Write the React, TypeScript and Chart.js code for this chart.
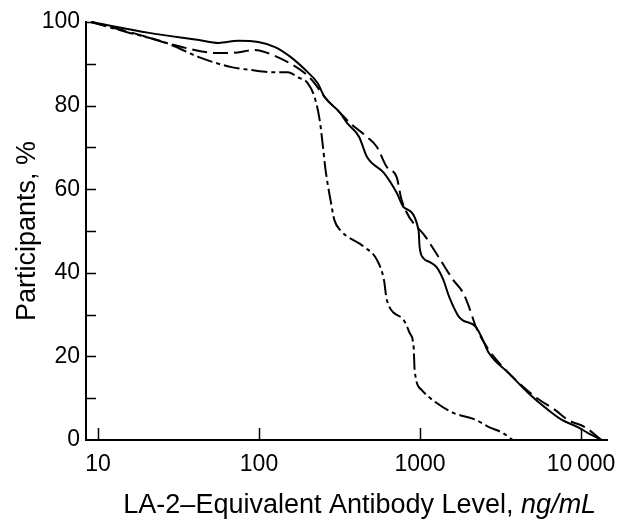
import React, { useEffect, useRef } from 'react';
import { Chart, registerables } from 'chart.js';

Chart.register(...registerables);

// ---- data ----
const solidX = [9.04, 20.8, 42.3, 56.1, 74.5, 98.9, 125.7, 157.6, 200.5, 231, 255, 320, 353, 418.6, 468.8, 596.6, 717.5, 792.5, 979.6, 994, 1051, 1145, 1264, 1396, 1520, 1751, 2228, 2460, 2679, 3555, 4719, 6245, 7616, 9550, 11000, 13400];
const solidY = [100, 97.4, 95.7, 95.0, 95.5, 95.2, 94.0, 91.6, 88.0, 85.4, 82.1, 78.2, 75.8, 72.5, 67.7, 63.9, 59.1, 55.7, 50.2, 46.2, 43.5, 42.6, 41.4, 38.3, 34.2, 29.4, 27.0, 23.9, 20.8, 16.0, 11.2, 7.2, 4.8, 3.1, 1.7, 0];

const dashedX = [9.04, 16.4, 33.2, 53.7, 67.4, 94.6, 109, 151, 192, 221, 255, 320, 368, 469, 540, 622, 716, 769, 1097, 1318, 1607, 1852, 2017, 2228, 2679, 3263, 3920, 5200, 6900, 8300, 10550, 13400];
const dashedY = [100, 97.4, 94.0, 92.6, 92.6, 93.3, 92.8, 90.4, 87.8, 85.4, 82.1, 78.2, 75.8, 72.5, 70.1, 65.3, 62.9, 57.4, 48.3, 43.5, 38.3, 35.2, 31.8, 27.0, 21.5, 17.5, 14.4, 10.3, 7.2, 4.8, 3.1, 0];

const dashDotX = [9.04, 15.0, 26.5, 42.3, 67.4, 89.5, 118.8, 151, 174, 200.5, 221, 238, 248, 259, 278, 294, 320, 450, 540, 597, 622, 792, 863, 913, 926, 1023, 1264, 1607, 2228, 2679, 3263, 3760];
const dashDotY = [100, 97.6, 95.0, 91.6, 89.2, 88.5, 88.0, 88.0, 86.8, 85.4, 82.1, 76.6, 71.1, 64.6, 57.4, 52.6, 50.2, 46.2, 43.1, 38.3, 33.5, 28.7, 25.6, 22.2, 16.7, 12.0, 8.9, 6.5, 4.8, 3.1, 1.7, 0];

const xTicks = [10, 100, 1000, 10000];
const xTickLabels = ['10', '100', '1000', '10\u2009000'];
const yTicks = [0, 20, 40, 60, 80, 100];
const yMinorTicks = [10, 30, 50, 70, 90];

const xMin = 8.42;
const xMax = 14600;

const yTitle = 'Participants, %';
const xTitleMain = 'LA-2\u2013Equivalent Antibody Level, ';
const xTitleItalic = 'ng/mL';

const FONT = '"Liberation Sans", Arial, Helvetica, sans-serif';

const toPoints = (xs: number[], ys: number[]) => xs.map((x, i) => ({ x, y: ys[i] }));

const decorPlugin = {
  id: 'decor',
  afterDatasetsDraw(chart: any) {
    const { ctx, chartArea, scales } = chart;
    const x = scales.x;
    const y = scales.y;
    ctx.save();
    ctx.strokeStyle = '#000';
    ctx.lineWidth = 1.5;
    ctx.beginPath();
    for (const v of [...yTicks, ...yMinorTicks]) {
      if (v === 0) continue;
      const py = Math.round(y.getPixelForValue(v)) + 0.5;
      ctx.moveTo(chartArea.left, py);
      ctx.lineTo(chartArea.left + 10, py);
    }
    for (const v of xTicks) {
      const px = Math.round(x.getPixelForValue(v)) + 0.5;
      ctx.moveTo(px, chartArea.bottom);
      ctx.lineTo(px, chartArea.bottom - 12);
    }
    ctx.stroke();

    // x axis title with italic unit
    const size = 27;
    ctx.fillStyle = '#000';
    ctx.textBaseline = 'alphabetic';
    ctx.textAlign = 'left';
    ctx.font = `${size}px ${FONT}`;
    const w1 = ctx.measureText(xTitleMain).width;
    ctx.font = `italic ${size}px ${FONT}`;
    const w2 = ctx.measureText(xTitleItalic).width;
    const cx = (chartArea.left + chartArea.right) / 2 + 13;
    const start = cx - (w1 + w2) / 2;
    const base = chartArea.bottom + 73;
    ctx.font = `${size}px ${FONT}`;
    ctx.fillText(xTitleMain, start, base);
    ctx.font = `italic ${size}px ${FONT}`;
    ctx.fillText(xTitleItalic, start + w1, base);
    ctx.restore();
  },
};

export default function App() {
  const ref = useRef<HTMLCanvasElement | null>(null);

  useEffect(() => {
    if (!ref.current) return;
    Chart.defaults.font.family = FONT;
    const chart = new Chart(ref.current, {
      type: 'line',
      data: {
        datasets: [
          {
            label: 'solid',
            data: toPoints(solidX, solidY),
            borderColor: '#000',
            borderWidth: 2,
            pointRadius: 0,
            cubicInterpolationMode: 'monotone',
            clip: 6,
          },
          {
            label: 'dashed',
            data: toPoints(dashedX, dashedY),
            borderColor: '#000',
            borderWidth: 2,
            borderDash: [15, 6],
            pointRadius: 0,
            cubicInterpolationMode: 'monotone',
            clip: 6,
          },
          {
            label: 'dash-dot',
            data: toPoints(dashDotX, dashDotY),
            borderColor: '#000',
            borderWidth: 2,
            borderDash: [16, 4, 4, 4],
            pointRadius: 0,
            cubicInterpolationMode: 'monotone',
            clip: 6,
          },
        ],
      },
      options: {
        animation: false,
        responsive: false,
        maintainAspectRatio: false,
        layout: { padding: { top: 22, right: 14, left: 0, bottom: 0 } },
        plugins: { legend: { display: false }, tooltip: { enabled: false } },
        scales: {
          x: {
            type: 'logarithmic',
            min: xMin,
            max: xMax,
            afterBuildTicks: (scale: any) => {
              scale.ticks = xTicks.map((v) => ({ value: v }));
            },
            afterFit: (scale: any) => {
              scale.height = 83;
            },
            ticks: {
              autoSkip: false,
              maxRotation: 0,
              color: '#000',
              font: { size: 23 },
              padding: 11,
              callback: (v: any) => {
                const i = xTicks.indexOf(Number(v));
                return i >= 0 ? xTickLabels[i] : '';
              },
            },
            grid: { display: false, drawTicks: false },
            border: { display: true, color: '#000', width: 2 },
          },
          y: {
            type: 'linear',
            min: 0,
            max: 100,
            afterBuildTicks: (scale: any) => {
              scale.ticks = yTicks.map((v) => ({ value: v }));
            },
            afterFit: (scale: any) => {
              scale.width = 86;
            },
            ticks: {
              color: '#000',
              font: { size: 23 },
              padding: 6,
            },
            grid: { display: false, drawTicks: false },
            border: { display: true, color: '#000', width: 2 },
            title: {
              display: true,
              text: yTitle,
              color: '#000',
              font: { size: 27 },
              padding: { top: 11, bottom: 0 },
            },
          },
        },
      },
      plugins: [decorPlugin],
    } as any);
    return () => chart.destroy();
  }, []);

  return (
    <div style={{ position: 'fixed', left: 0, top: 0, width: 627, height: 523, background: '#fff' }}>
      <canvas ref={ref} width={627} height={523} style={{ display: 'block' }} />
    </div>
  );
}
